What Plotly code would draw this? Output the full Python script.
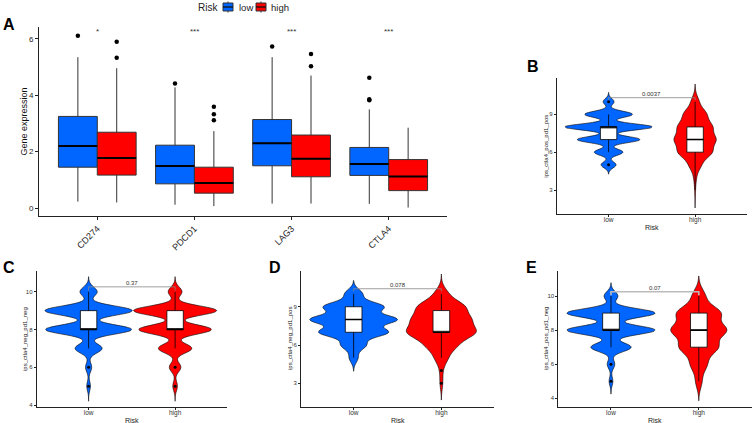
import numpy as np
import plotly.graph_objects as go

W, H = 753, 423
BLUE = "#0066FF"
RED = "#FF0000"
FONT = "Liberation Sans, Arial, sans-serif"

# ---------------- Panel A data (box statistics) ----------------
genes = ["CD274", "PDCD1", "LAG3", "CTLA4"]
gene_pos = [1, 2, 3, 4]
low_q1 = [1.45, 0.86, 1.50, 1.16]
low_median = [2.20, 1.49, 2.30, 1.56]
low_q3 = [3.25, 2.23, 3.14, 2.15]
low_lower = [0.23, 0.12, 0.16, 0.15]
low_upper = [5.35, 4.28, 5.35, 3.50]
high_q1 = [1.17, 0.53, 1.11, 0.62]
high_median = [1.78, 0.89, 1.75, 1.12]
high_q3 = [2.69, 1.45, 2.59, 1.72]
high_lower = [0.20, 0.07, 0.16, 0.02]
high_upper = [4.96, 2.73, 4.70, 2.85]
low_outliers = [[6.11], [4.42], [5.73], [4.62, 3.86, 3.82]]
high_outliers = [[5.90, 5.33], [3.59, 3.33, 3.11], [5.46, 5.03], []]
sig_labels = ["*", "***", "***", "***"]

score_levels = [3, 4, 5, 6, 7, 8, 9, 10]
B_low_counts = [0, 0, 11, 21, 46, 64, 35, 8]
B_high_counts = [1, 3, 14, 40, 48, 40, 27, 9]
C_low_counts = [0, 0, 3, 5, 22, 70, 71, 14]
C_high_counts = [0, 0, 4, 10, 29, 63, 72, 12]
D_low_counts = [0, 0, 6, 17, 47, 59, 41, 12]
D_high_counts = [2, 2, 9, 21, 48, 39, 33, 9]
E_low_counts = [0, 0, 3, 6, 32, 70, 70, 11]
E_high_counts = [0, 0, 7, 18, 42, 60, 48, 14]

# box stats: [q1, median, q3, lower whisker, upper whisker] for (low, high)
B_box = [[7, 8, 8, 6, 9], [6, 7, 8, 3, 10]]
C_box = [[8, 8, 9, 7, 10], [8, 8, 9, 7, 10]]
D_box = [[7, 8, 9, 5, 10], [7, 7, 8.7, 5, 10]]
E_box = [[8, 8, 9, 7, 10], [7, 8, 9, 5, 10]]
B_outliers = [[5, 10], []]
C_outliers = [[6, 5], [6, 5]]
D_outliers = [[], [4, 3]]
E_outliers = [[6, 5], []]

p_values = ["0.0037", "0.37", "0.078", "0.07"]
bracket_y = [10.32, 10.26, 10.41, 10.25]
y_titles = ["ips_ctla4_pos_pd1_pos", "ips_ctla4_neg_pd1_neg",
            "ips_ctla4_neg_pd1_pos", "ips_ctla4_pos_pd1_neg"]
y_ticks = [[3, 6, 9], [4, 6, 8, 10], [3, 6, 9], [4, 6, 8, 10]]
risk_groups = ["low", "high"]

# violin rendering parameters (kernel bandwidth, extent, max width)
B_bw, C_bw, D_bw, E_bw = [0.247, 0.47], [0.247, 0.247], [0.37, 0.5], [0.26, 0.42]
B_span = [[4.26, 10.74], [1.58, 11.4]]
C_span = [[4.2, 10.8], [4.2, 10.8]]
D_span = [[3.95, 11.05], [1.69, 11.56]]
E_span = [[4.25, 10.78], [3.86, 11.17]]
B_wid, C_wid, D_wid, E_wid = [1.0, 0.49], [1.01, 0.96], [1.0, 0.8], [1.0, 0.64]

fig = go.Figure()

# ---------------- Panel A ----------------
offs = 0.2
bw_a = 0.4
for grp, col, q1, med, q3, lo, hi, outl, sgn in [
    ("low", BLUE, low_q1, low_median, low_q3, low_lower, low_upper, low_outliers, -1),
    ("high", RED, high_q1, high_median, high_q3, high_lower, high_upper, high_outliers, 1),
]:
    xs = [p + sgn * offs for p in gene_pos]
    fig.add_trace(go.Box(
        x=xs, q1=q1, median=med, q3=q3, lowerfence=lo, upperfence=hi,
        width=bw_a, fillcolor=col, line=dict(color="#333333", width=1),
        whiskerwidth=0, boxpoints=False, name=grp, showlegend=False,
        xaxis="x", yaxis="y", hoverinfo="skip"))
    mx, my = [], []
    for x, m in zip(xs, med):
        mx += [x - bw_a / 2, x + bw_a / 2, None]
        my += [m, m, None]
    fig.add_trace(go.Scatter(x=mx, y=my, mode="lines", line=dict(color="black", width=2),
                             showlegend=False, xaxis="x", yaxis="y", hoverinfo="skip"))
    ox, oy = [], []
    for x, vals in zip(xs, outl):
        ox += [x] * len(vals)
        oy += vals
    fig.add_trace(go.Scatter(x=ox, y=oy, mode="markers", marker=dict(color="black", size=4.5),
                             showlegend=False, xaxis="x", yaxis="y", hoverinfo="skip"))

annotations = []
for p, s in zip(gene_pos, sig_labels):
    annotations.append(dict(x=p, y=6.26, xref="x", yref="y", text=s, showarrow=False,
                            font=dict(size=8, color="#333333", family=FONT)))

# ---------------- Panels B-E ----------------
panels = [
    ("2", [B_low_counts, B_high_counts], B_box, B_outliers, B_bw, B_span, B_wid),
    ("3", [C_low_counts, C_high_counts], C_box, C_outliers, C_bw, C_span, C_wid),
    ("4", [D_low_counts, D_high_counts], D_box, D_outliers, D_bw, D_span, D_wid),
    ("5", [E_low_counts, E_high_counts], E_box, E_outliers, E_bw, E_span, E_wid),
]
box_w = 0.19
for i, (ax, counts, box, outl, bws, spans, wids) in enumerate(panels):
    xa, ya = "x" + ax, "y" + ax
    for gi, (col, cnt) in enumerate(zip([BLUE, RED], counts)):
        vals = np.repeat(score_levels, cnt)
        fig.add_trace(go.Violin(
            x=[gi + 1] * len(vals), y=vals, xaxis=xa, yaxis=ya,
            fillcolor=col, line=dict(color="black", width=0.6), opacity=1,
            bandwidth=bws[gi], spanmode="manual", span=spans[gi],
            width=wids[gi], scalemode="width", points=False,
            box=dict(visible=False), meanline=dict(visible=False),
            showlegend=False, hoverinfo="skip"))
    fig.add_trace(go.Box(
        x=[1, 2], q1=[b[0] for b in box], median=[b[1] for b in box],
        q3=[b[2] for b in box], lowerfence=[b[3] for b in box], upperfence=[b[4] for b in box],
        width=box_w, fillcolor="white", line=dict(color="black", width=0.8),
        whiskerwidth=0, boxpoints=False, showlegend=False, xaxis=xa, yaxis=ya, hoverinfo="skip"))
    mx, my = [], []
    for gi, b in enumerate(box):
        mx += [gi + 1 - box_w / 2, gi + 1 + box_w / 2, None]
        my += [b[1], b[1], None]
    fig.add_trace(go.Scatter(x=mx, y=my, mode="lines", line=dict(color="black", width=1.6),
                             showlegend=False, xaxis=xa, yaxis=ya, hoverinfo="skip"))
    ox, oy = [], []
    for gi, vals in enumerate(outl):
        ox += [gi + 1] * len(vals)
        oy += vals
    fig.add_trace(go.Scatter(x=ox, y=oy, mode="markers", marker=dict(color="black", size=3),
                             showlegend=False, xaxis=xa, yaxis=ya, hoverinfo="skip"))
    yb = bracket_y[i]
    tip = 0.2
    lc = "#BBBBBB" if ax == "5" else "#888888"
    lw = 1.6 if ax == "5" else 0.8
    fig.add_trace(go.Scatter(x=[1, 1, 2, 2], y=[yb - tip, yb, yb, yb - tip], mode="lines",
                             line=dict(color=lc, width=lw), showlegend=False,
                             xaxis=xa, yaxis=ya, hoverinfo="skip"))
    annotations.append(dict(x=1.5, y=yb, xref=xa, yref=ya, text=p_values[i], showarrow=False,
                            yanchor="bottom", yshift=-1,
                            font=dict(size=6, color="#333333", family=FONT)))


def px_ann(x, y, text, size, angle=0, bold=False, color="#000000", xanchor="center"):
    return dict(x=x / W, y=1 - y / H, xref="paper", yref="paper",
                text=("<b>%s</b>" % text) if bold else text, showarrow=False,
                textangle=angle, xanchor=xanchor, yanchor="middle",
                font=dict(size=size, color=color, family=FONT))


# panel letters
for (x, y, t) in [(8.5, 24.5, "A"), (532.5, 66, "B"), (9, 267, "C"), (275, 267.5, "D"), (531.7, 267, "E")]:
    annotations.append(px_ann(x, y, t, 16, bold=True))
# axis titles
annotations.append(px_ann(23, 121.5, "Gene expression", 9, angle=-90, color="#111111"))
for (x, y), t in zip([(545.7, 146), (25, 339), (290, 339), (546, 339)], y_titles):
    annotations.append(px_ann(x, y, t, 6, angle=-90, color="#222222"))
for (x, y) in [(652, 227), (132, 420), (397.5, 420), (655, 420)]:
    annotations.append(px_ann(x, y, "Risk", 7, color="#222222"))

# legend (drawn as decoration: title, keys, labels)
annotations.append(px_ann(208.5, 7, "Risk", 10, color="#222222"))
shapes = []
for (x0, col, lab, lx) in [(223, BLUE, "low", 245.5), (256, RED, "high", 279.5)]:
    shapes.append(dict(type="line", xref="paper", yref="paper",
                       x0=(x0 + 5) / W, x1=(x0 + 5) / W, y0=1 - 1.5 / H, y1=1 - 12.5 / H,
                       line=dict(color="#333333", width=1)))
    shapes.append(dict(type="rect", xref="paper", yref="paper",
                       x0=x0 / W, x1=(x0 + 10) / W, y0=1 - 3 / H, y1=1 - 11 / H,
                       fillcolor=col, line=dict(color="#333333", width=1)))
    shapes.append(dict(type="line", xref="paper", yref="paper",
                       x0=x0 / W, x1=(x0 + 10) / W, y0=1 - 7 / H, y1=1 - 7 / H,
                       line=dict(color="#111111", width=1.3)))
    annotations.append(px_ann(lx, 7, lab, 9.5, color="#222222"))


def xd(a, b):
    return [a / W, b / W]


def yd(top, bottom):
    return [1 - bottom / H, 1 - top / H]


axis_common = dict(showline=True, linecolor="#222222", linewidth=1, ticks="outside",
                   tickcolor="#222222", showgrid=False, zeroline=False, fixedrange=True)
small = dict(ticklen=2, tickfont=dict(size=6, color="#333333", family=FONT))

layout_axes = dict(
    xaxis=dict(domain=xd(39, 447), range=[0.4, 4.6], tickvals=gene_pos, ticktext=genes,
               tickangle=-45, ticklen=3, tickfont=dict(size=9, color="#222222", family=FONT),
               anchor="y", **axis_common),
    yaxis=dict(domain=yd(27, 216), range=[-0.28, 6.42], tickvals=[0, 2, 4, 6], ticklen=3,
               tickfont=dict(size=8, color="#222222", family=FONT), anchor="x", **axis_common),
)
ax_geo = {
    "2": (xd(556.7, 747), yd(78, 214), [1.1, 11.88]),
    "3": (xd(36.7, 227), yd(271, 406.7), [3.91, 11.1]),
    "4": (xd(301, 494), yd(271, 406.7), [1.17, 11.8]),
    "5": (xd(558.3, 751.5), yd(271, 406.7), [3.51, 11.47]),
}
for i, (ax, (dx, dy, yr)) in enumerate(ax_geo.items()):
    layout_axes["xaxis" + ax] = dict(domain=dx, range=[0.4, 2.6], tickvals=[1, 2],
                                     ticktext=risk_groups, anchor="y" + ax,
                                     ticklen=2, ticklabelstandoff=-3,
                                     tickfont=dict(size=6.5, color="#333333", family=FONT),
                                     **axis_common)
    layout_axes["yaxis" + ax] = dict(domain=dy, range=yr, tickvals=y_ticks[i], anchor="x" + ax,
                                     **small, **axis_common)

fig.update_layout(
    width=W, height=H, margin=dict(l=0, r=0, t=0, b=0),
    paper_bgcolor="white", plot_bgcolor="white",
    boxmode="overlay", violinmode="overlay",
    font=dict(family=FONT),
    showlegend=False,
    annotations=annotations,
    shapes=shapes,
    **layout_axes,
)

fig.write_html("out.html", config={"displayModeBar": False},
               post_script="document.body.style.margin='0';document.body.style.overflow='hidden';")
